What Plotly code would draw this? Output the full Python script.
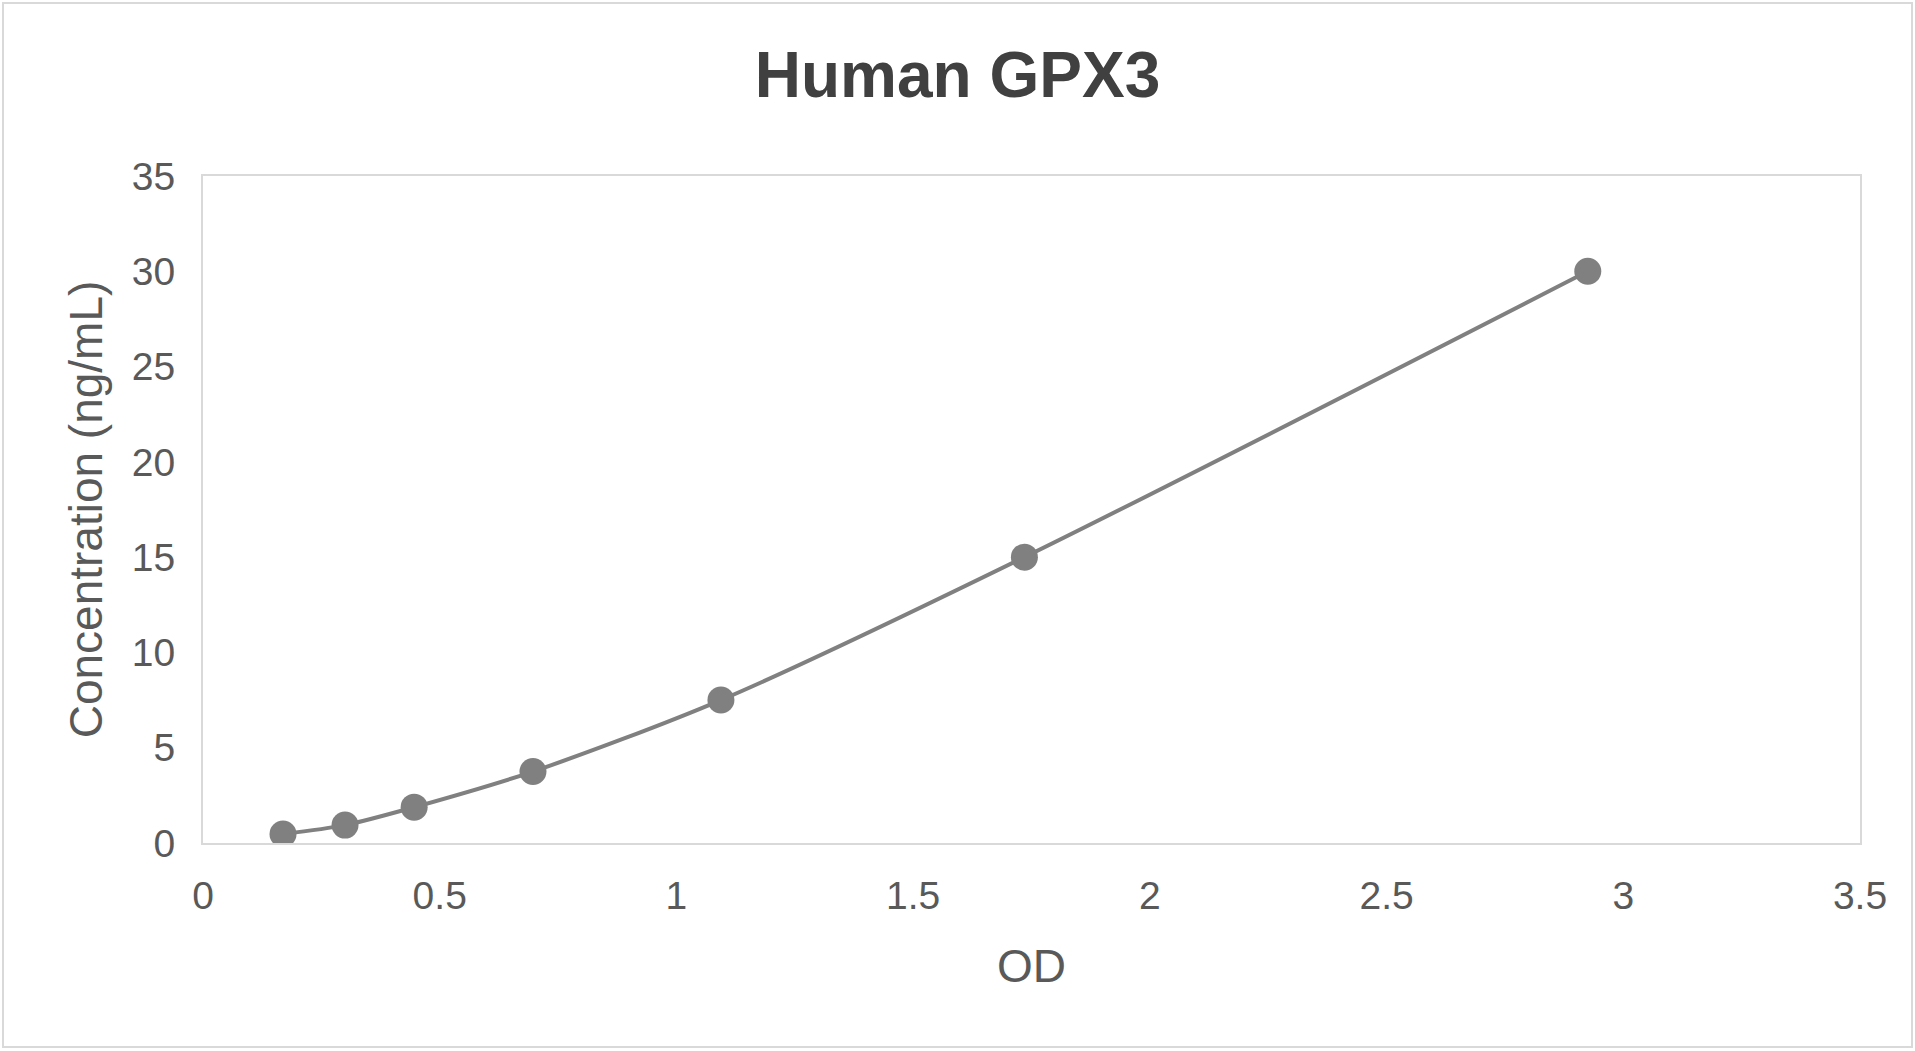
import plotly.graph_objects as go

# standard curve
od = [0.169, 0.300, 0.446, 0.697, 1.094, 1.735, 2.925]
conc = [0.47, 0.94, 1.88, 3.75, 7.5, 15, 30]

x_ticks = [0, 0.5, 1, 1.5, 2, 2.5, 3, 3.5]
x_ticktext = ["0", "0.5", "1", "1.5", "2", "2.5", "3", "3.5"]
y_ticks = [0, 5, 10, 15, 20, 25, 30, 35]

W, H = 1915, 1051
L, R, T, B = 203, 55, 176, 208

fig = go.Figure()
fig.add_trace(go.Scatter(
    x=od, y=conc, mode="lines+markers",
    line=dict(color="#808080", width=4, shape="spline", smoothing=0.8),
    marker=dict(color="#808080", size=27),
    showlegend=False,
))

pw, ph = W - L - R, H - T - B
fig.update_layout(
    width=W, height=H,
    margin=dict(l=L, r=R, t=T, b=B),
    paper_bgcolor="white", plot_bgcolor="white",
    font=dict(family="Liberation Sans, Arial", color="#595959"),
    title=dict(text="<b>Human GPX3</b>", x=0.5, xanchor="center",
               y=1 - 75 / H, yanchor="middle", yref="container",
               font=dict(size=64, color="#404040")),
    # light outer frame round the whole chart
    shapes=[dict(type="rect", xref="paper", yref="paper",
                 x0=-(L - 3) / pw, x1=1 + (R - 3) / pw,
                 y0=-(B - 4) / ph, y1=1 + (T - 3) / ph,
                 line=dict(color="#d9d9d9", width=2))],
)

fig.update_xaxes(
    range=[0, 3.5], tickvals=x_ticks, ticktext=x_ticktext,
    showgrid=False, zeroline=False,
    showline=True, mirror=True, linecolor="#d9d9d9", linewidth=2,
    ticks="", tickfont=dict(size=39, color="#595959"), ticklabelstandoff=17,
    title=dict(text="OD", font=dict(size=46, color="#595959"), standoff=34),
)
fig.update_yaxes(
    range=[0, 35], tickvals=y_ticks,
    showgrid=False, zeroline=False,
    showline=True, mirror=True, linecolor="#d9d9d9", linewidth=2,
    ticks="", tickfont=dict(size=39, color="#595959"), ticklabelstandoff=18,
    title=dict(text="Concentration (ng/mL)", font=dict(size=46, color="#595959"), standoff=15),
)

# page has a default body margin; drop it so the figure sits at the window corner
fig.write_html("out.html", config={"displayModeBar": False},
               post_script="document.body.style.margin='0';")
